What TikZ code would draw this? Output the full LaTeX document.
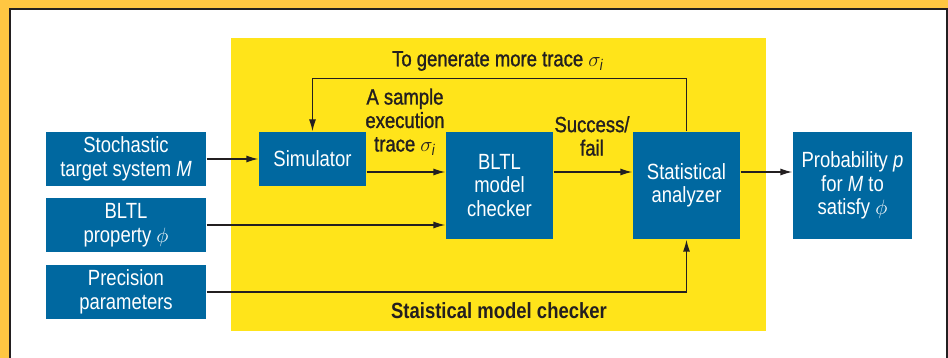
\documentclass[tikz,border=0pt]{standalone}
\usepackage{fontspec}
\setmainfont{Liberation Sans}[FakeStretch=0.84]
\newfontfamily\lblfont{Liberation Sans}[FakeStretch=0.84,FakeBold=1.2]
\usetikzlibrary{arrows.meta}
\definecolor{boxblue}{RGB}{0,104,160}
\definecolor{smcyellow}{RGB}{255,228,26}
\definecolor{frameorange}{RGB}{255,198,66}
\definecolor{ink}{RGB}{35,31,32}
\newcommand{\trc}{$\sigma_{\mathit{i}}$}
\begin{document}
\begin{tikzpicture}[x=1pt,y=-1pt,->,>={Latex[length=12pt,width=7pt]},line width=1.3pt,color=ink,
    blk/.style={fill=boxblue,text=white,align=center,inner sep=0pt,font=\fontsize{22}{23.5}\selectfont},
    lbl/.style={text=ink,align=center,inner sep=0pt,font=\lblfont\fontsize{22}{23.5}\selectfont}]
  \useasboundingbox (0,0) rectangle (948,358);
  \fill[frameorange] (0,0) rectangle (948,358);
  \draw[-,fill=white,line width=2pt] (9.5,9.5) rectangle (947,372);
  \fill[smcyellow] (231,38) rectangle (766,331);
  % inputs
  \node[blk,minimum width=160pt,minimum height=54pt] (stm) at (126,159) {Stochastic\\target system \textit{M}};
  \node[blk,minimum width=160pt,minimum height=54pt] (prop) at (126,225) {BLTL\\property $\phi$};
  \node[blk,minimum width=160pt,minimum height=54pt] (prec) at (126,292) {Precision\\parameters};
  % checker
  \node[blk,minimum width=107pt,minimum height=54pt] (sim) at (312.5,159) {Simulator};
  \node[blk,minimum width=107pt,minimum height=107pt] (mc) at (499.5,185.5) {BLTL\\model\\checker};
  \node[blk,minimum width=107pt,minimum height=107pt] (ana) at (686.5,185.5) {Statistical\\analyzer};
  \node[blk,minimum width=119pt,minimum height=107pt] (prob) at (852.5,185.5) {Probability \textit{p}\\for \textit{M} to\\satisfy $\phi$};
  % labels
  \node[lbl] (gen) at (498,61) {To generate more trace \trc};
  \node[lbl] (trace) at (405,122) {A sample\\execution\\trace \trc};
  \node[lbl] (sf) at (592,136) {Success/\\fail};
  \node[lbl,font=\bfseries\fontsize{22}{23.5}\selectfont] (smc) at (499,311) {Staistical model checker};
  \draw (stm) -- (sim);
  \draw ([yshift=-13pt]sim.east) -- ([yshift=-13pt]sim.east -| mc.west);
  \draw (prop) -- (prop -| mc.west);
  \draw ([yshift=13.5pt]mc.east) -- ([yshift=13.5pt]ana.west);
  \draw ([yshift=13.5pt]ana.east) -- ([yshift=13.5pt]prob.west);
  \draw (ana.north) -- ++(0,-53) -| (sim.north);
  \draw (prec) -| (ana.south);
\end{tikzpicture}
\end{document}
